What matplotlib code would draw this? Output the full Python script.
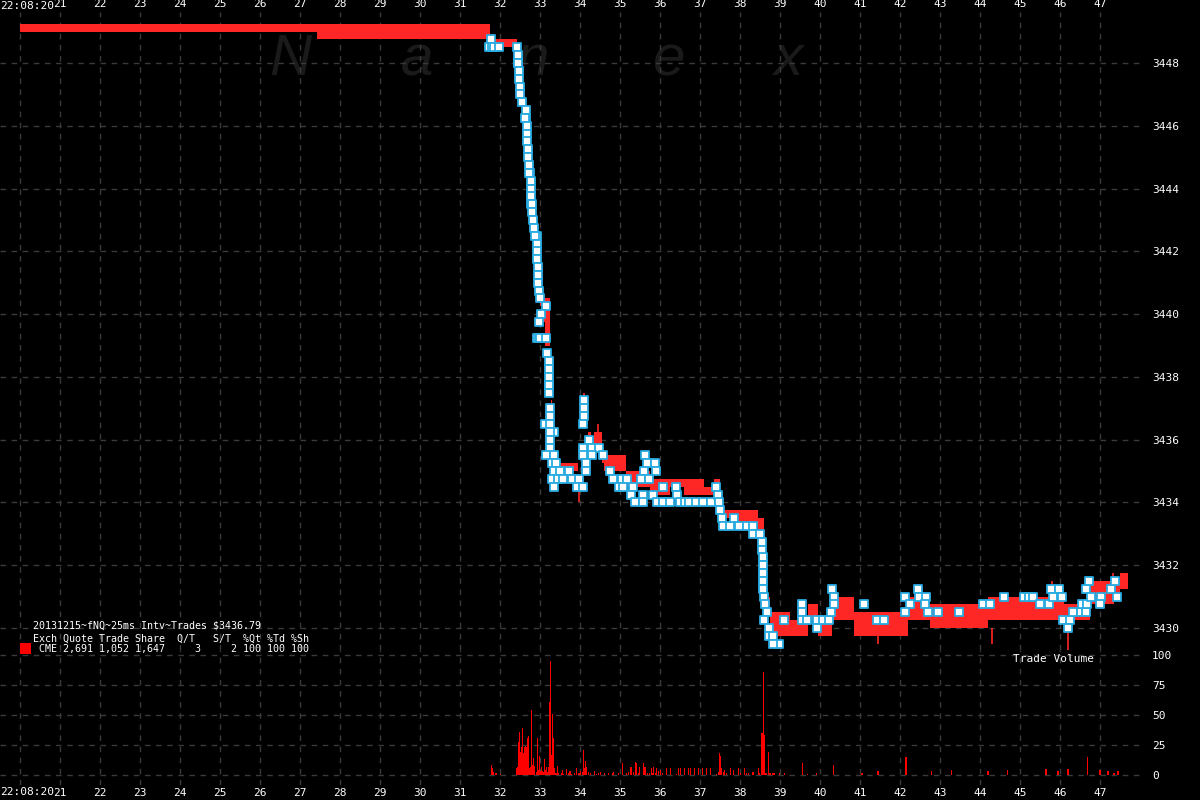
import matplotlib
matplotlib.use('Agg')
import matplotlib.pyplot as plt
from matplotlib.patches import Rectangle

plt.rcParams['font.family'] = ['DejaVu Sans Mono']

# ---------------- data ----------------
sec_ticks = list(range(20, 48))
sec_labels = [''] + [str(s) for s in range(21, 48)]
start_label = '22:08:20'

price_ticks = [3430, 3432, 3434, 3436, 3438, 3440, 3442, 3444, 3446, 3448]
vol_ticks = [0, 25, 50, 75, 100]

# quote (bid/ask) band, step-post
quote_t = [20.0, 27.43, 31.75, 32.42, 32.46, 32.5, 32.55, 32.65, 32.7, 32.76, 32.82, 32.88,
           32.93, 32.97, 33.0, 33.05, 33.12, 33.25, 33.27, 33.3, 33.35, 33.4, 33.95, 34.1,
           34.2, 34.28, 34.35, 34.55, 34.6, 35.15, 35.75, 36.25, 36.6, 37.1, 37.35, 37.5,
           37.75, 38.45, 38.6, 38.65, 38.75, 39.25, 39.7, 39.95, 40.3, 40.85, 42.2, 42.5,
           42.75, 44.2, 46.1, 46.75, 47.35, 47.5, 47.7]
quote_bid = [3449.0, 3448.75, 3448.5, 3448.25, 3447.75, 3447.0, 3446.5, 3446.0, 3445.0, 3444.0,
             3443.0, 3442.5, 3441.5, 3441.0, 3440.25, 3439.75, 3439.0, 3437.5, 3436.75, 3435.75,
             3435.25, 3435.0, 3434.5, 3436.5, 3436.0, 3435.75, 3435.75, 3435.25, 3435.0, 3434.5,
             3434.25, 3434.5, 3434.25, 3434.25, 3434.5, 3433.5, 3433.25, 3433.0, 3432.0, 3430.5,
             3429.75, 3429.75, 3430.25, 3429.75, 3430.25, 3429.75, 3430.25, 3430.25, 3430.0,
             3430.25, 3430.25, 3430.75, 3431.0, 3431.25, 3431.25]
quote_ask = [3449.25, 3449.25, 3448.75, 3448.5, 3448.0, 3447.25, 3446.75, 3446.25, 3445.25, 3444.5,
             3443.25, 3442.75, 3441.75, 3441.25, 3440.5, 3440.25, 3440.5, 3438.0, 3437.25, 3436.0,
             3435.5, 3435.25, 3434.75, 3437.0, 3436.25, 3436.0, 3436.25, 3435.75, 3435.5, 3435.0,
             3434.75, 3434.75, 3434.75, 3434.5, 3434.75, 3433.75, 3433.75, 3433.5, 3432.75, 3431.0,
             3430.5, 3430.25, 3430.75, 3430.25, 3431.0, 3430.5, 3431.0, 3430.75, 3430.75,
             3431.0, 3430.75, 3431.5, 3431.5, 3431.75, 3431.75]

# brief quote flickers
flick_t = [34.1, 34.45, 33.98, 38.5, 41.45, 44.3, 46.2, 47.32, 45.8]
flick_lo = [3437.0, 3435.75, 3434.0, 3432.75, 3429.5, 3429.5, 3429.25, 3431.5, 3431.25]
flick_hi = [3437.5, 3436.5, 3434.5, 3433.25, 3429.75, 3430.0, 3430.0, 3431.75, 3431.5]

# trades
trade_t = [31.72, 31.77, 31.8, 31.85, 31.98,
           32.42, 32.44, 32.45, 32.46, 32.47, 32.48, 32.49, 32.5, 32.54, 32.64, 32.65, 32.63, 32.67,
           32.68, 32.68, 32.7, 32.71, 32.72, 32.76, 32.73, 32.77, 32.77, 32.78, 32.78, 32.8, 32.79,
           32.83, 32.86, 32.92, 32.88, 32.92, 32.93, 32.93, 32.94, 32.95, 32.95, 32.98, 33.0,
           33.14, 33.02, 32.97, 32.93, 32.97, 33.0, 33.15, 33.17, 33.23, 33.23, 33.22, 33.22,
           33.23, 33.23, 33.25, 33.25, 33.12, 33.25, 33.35, 33.25, 33.25, 33.25, 33.15, 33.35,
           33.3, 33.4, 33.35, 33.5, 33.72, 33.3, 33.45, 33.58, 33.8, 33.98, 33.35, 33.93, 34.07,
           34.11, 34.11, 34.11, 34.08, 34.22, 34.08, 34.3, 34.47, 34.08, 34.3, 34.58, 34.15,
           34.15, 34.75, 34.83, 35.05, 35.17, 34.97, 35.08, 35.33, 35.27, 35.58, 35.83, 35.63,
           35.68, 35.87, 35.6, 35.9, 35.52, 35.72, 36.07, 35.38, 35.58, 35.92, 36.12,
           36.4, 36.43, 36.08, 36.25, 36.5, 36.63, 36.72, 36.9, 37.07, 37.27, 37.4, 37.45, 37.47,
           37.5, 37.55, 37.58, 37.75, 37.85, 37.97, 38.17, 38.32, 38.32, 38.5, 38.55, 38.55,
           38.57, 38.57, 38.58, 38.58, 38.58, 38.6, 38.62, 38.67, 38.6, 38.72, 38.73, 38.83,
           38.97, 38.83, 39.1,
           39.55, 39.55, 39.55, 39.68, 39.92, 39.92, 40.08, 40.23, 40.3, 40.35, 40.35, 40.27,
           41.1, 41.42, 41.6, 42.13, 42.25, 42.13, 42.45, 42.48, 42.65, 42.62, 42.7, 42.95,
           43.47, 44.08, 44.25, 44.6, 45.1, 45.22, 45.33, 45.5, 45.73, 45.77, 45.98, 45.83,
           46.05, 46.08, 46.25, 46.2, 46.33, 46.53, 46.65, 46.55, 46.68, 46.65, 46.72, 46.77,
           47.02, 47.0, 47.27, 47.38, 47.42]
trade_p = [3448.5, 3448.75, 3448.5, 3448.5, 3448.5,
           3448.5, 3448.25, 3448.0, 3448.0, 3447.75, 3447.5, 3447.25, 3447.0, 3446.75, 3446.5,
           3446.25, 3446.25, 3446.0, 3445.75, 3445.5, 3445.25, 3445.0, 3444.75, 3444.5, 3444.5,
           3444.25, 3444.0, 3443.75, 3443.5, 3443.5, 3443.25, 3443.0, 3442.75, 3442.5, 3442.5,
           3442.25, 3442.0, 3441.75, 3441.5, 3441.25, 3441.0, 3440.75, 3440.5,
           3440.25, 3440.0, 3439.75, 3439.25, 3439.25, 3439.25, 3439.25, 3438.75, 3438.5,
           3438.25, 3438.0, 3437.75,
           3437.75, 3437.5, 3437.0, 3436.75, 3436.5, 3436.5, 3436.25, 3436.25, 3436.0, 3435.75,
           3435.5, 3435.5, 3435.25, 3435.25, 3435.0, 3435.0, 3435.0, 3434.75, 3434.75, 3434.75,
           3434.75, 3434.75, 3434.5, 3434.5, 3434.5,
           3437.25, 3437.0, 3436.75, 3436.5, 3436.0, 3435.75, 3435.75, 3435.75, 3435.5, 3435.5,
           3435.5, 3435.25, 3435.0, 3435.0, 3434.75, 3434.75, 3434.75, 3434.5, 3434.5, 3434.5,
           3434.25, 3434.25, 3434.25, 3435.5, 3435.25, 3435.25, 3435.0, 3435.0, 3434.75,
           3434.75, 3434.5, 3434.0, 3434.0, 3434.0, 3434.0,
           3434.5, 3434.25, 3434.0, 3434.0, 3434.0, 3434.0, 3434.0, 3434.0, 3434.0, 3434.0,
           3434.5, 3434.25, 3434.0, 3433.75, 3433.5, 3433.25, 3433.25, 3433.5, 3433.25, 3433.25,
           3433.25, 3433.0, 3433.0, 3432.75, 3432.5, 3432.25, 3432.0, 3431.75, 3431.5, 3431.25,
           3431.0, 3430.75, 3430.5, 3430.25, 3430.0, 3429.75, 3429.75, 3429.5, 3429.5, 3430.25,
           3430.75, 3430.5, 3430.25, 3430.25, 3430.25, 3430.0, 3430.25, 3430.25, 3431.25,
           3431.0, 3430.75, 3430.5, 3430.75, 3430.25, 3430.25, 3431.0, 3430.75, 3430.5,
           3431.25, 3431.0, 3431.0, 3430.75, 3430.5, 3430.5, 3430.5, 3430.75, 3430.75, 3431.0,
           3431.0, 3431.0, 3431.0, 3430.75, 3430.75, 3431.25, 3431.25, 3431.0, 3431.0, 3430.25,
           3430.25, 3430.0, 3430.5, 3430.5, 3430.5, 3430.75, 3430.75, 3431.25, 3431.5, 3431.0,
           3431.0, 3430.75, 3431.25, 3431.5, 3431.0]

# trade volume per 25 ms interval
vol_t = [31.78, 31.81, 31.83, 31.88, 31.92, 32.02, 32.42, 32.44, 32.47, 32.49, 32.52, 32.54,
         32.57, 32.59, 32.62, 32.64, 32.67, 32.69, 32.72, 32.73, 32.77, 32.79, 32.82, 32.84,
         32.87, 32.92, 32.94, 32.97, 32.99, 33.02, 33.04, 33.07, 33.09, 33.12, 33.14, 33.17,
         33.19, 33.22, 33.24, 33.26, 33.29, 33.32, 33.34, 33.37, 33.40, 33.43, 33.47, 33.54,
         33.57, 33.59, 33.67, 33.72, 33.75, 33.78, 33.87, 33.92, 33.97, 34.0, 34.02, 34.07,
         34.09, 34.12, 34.14, 34.17, 34.22, 34.27, 34.36, 34.42, 34.47, 34.52, 34.62, 34.72,
         34.82, 34.84, 34.97, 35.07, 35.17, 35.22, 35.27, 35.29, 35.34, 35.39, 35.42, 35.47,
         35.49, 35.59, 35.62, 35.64, 35.69, 35.74, 35.79, 35.82, 35.84, 35.89, 35.92, 35.97,
         36.02, 36.07, 36.17, 36.27, 36.42, 36.47, 36.52, 36.62, 36.72, 36.77, 36.87, 36.97,
         37.07, 37.17, 37.27, 37.42, 37.47, 37.49, 37.52, 37.54, 37.59, 37.62, 37.67, 37.77,
         37.84, 37.97, 38.02, 38.12, 38.17, 38.22, 38.32, 38.34, 38.47, 38.49, 38.54, 38.55,
         38.57, 38.58, 38.61, 38.63, 38.67, 38.71, 38.73, 38.77, 38.82, 38.85, 38.98, 39.12,
         39.56, 39.69, 39.92, 40.33, 41.05, 41.45, 42.15, 42.78, 43.28, 44.2, 44.68, 45.65,
         45.95, 46.2, 46.68, 47.0, 47.2, 47.35, 47.45]
vol_v = [8.3, 5.6, 2.8, 1.4, 1.9, 0.8, 5.6, 6.9, 27.8, 36.1, 19.4, 23.6,
         38.9, 18.1, 23.6, 24.2, 23.6, 30.6, 32.5, 5.6, 6.9, 54.2, 8.3, 13.9,
         7.5, 2.8, 30.6, 4.2, 15.8, 3.6, 6.9, 3.6, 2.8, 13.1, 4.2, 6.9,
         2.8, 6.9, 61.1, 95.3, 16.7, 50.8, 30.6, 5.6, 1.4, 7.5, 1.4, 1.9,
         4.2, 0.8, 4.7, 1.9, 3.6, 0.8, 1.9, 5.6, 1.4, 1.9, 3.6, 2.8,
         20.8, 5.6, 11.9, 6.9, 2.8, 1.9, 3.3, 0.6, 1.4, 2.8, 1.9, 1.4,
         1.9, 2.8, 1.4, 9.7, 1.4, 2.8, 6.4, 6.9, 2.8, 11.1, 9.7, 1.9,
         6.4, 10.3, 6.4, 6.4, 1.9, 1.9, 5.6, 1.9, 6.4, 1.9, 5.6, 3.6,
         4.2, 1.4, 5.6, 5.6, 0.8, 5.6, 5.6, 5.6, 5.6, 5.6, 5.6, 5.6,
         5.6, 5.6, 5.6, 0.8, 2.8, 18.1, 15.8, 5.6, 2.8, 4.2, 1.9, 5.6,
         4.2, 5.6, 1.9, 5.6, 1.9, 1.9, 2.8, 2.8, 5.6, 1.9, 1.9, 34.7,
         34.7, 86.1, 33.3, 1.9, 1.9, 19.4, 1.9, 1.9, 1.4, 1.9, 1.4, 1.4,
         9.7, 0.8, 1.4, 8.0, 2.0, 3.0, 15.0, 3.0, 4.0, 3.0, 4.0, 5.0,
         3.0, 5.0, 15.0, 4.0, 3.0, 2.0, 3.0]

header_lines = ['20131215~fNQ~25ms Intv~Trades $3436.79',
                'Exch Quote Trade Share  Q/T   S/T  %Qt %Td %Sh',
                ' CME 2,691 1,052 1,647     3     2 100 100 100']
watermark = ['N', 'a', 'n', 'e', 'x']

# ---------------- style ----------------
RED = '#ff2626'
GRID = '#3a3a3a'
W, H = 1200, 800


def fx(px):
    return px / W


def fy(py):
    return 1 - py / H


fig = plt.figure(figsize=(12, 8), dpi=100, facecolor='black')
ax = fig.add_axes([0, fy(650), fx(1145), (650 - 12) / H])
axv = fig.add_axes([0, fy(785), fx(1145), (785 - 650) / H])

for a in (ax, axv):
    a.set_facecolor('none')
    for s in a.spines.values():
        s.set_visible(False)
    a.set_xlim(19.5, 48.125)
    a.set_xticks(sec_ticks)
    a.set_xticklabels(sec_labels)
    a.grid(True, color=GRID, linestyle=(0, (4, 4)), linewidth=1)
    a.set_axisbelow(True)
    a.tick_params(length=0, colors='white', labelsize=8)
    a.yaxis.tick_right()
    a.tick_params(axis='y', pad=5)

ax.xaxis.tick_top()
ax.tick_params(axis='x', pad=2)
axv.tick_params(axis='x', pad=2)

ax.set_ylim(3429.30, 3449.625)
ax.set_yticks(price_ticks)
ax.set_yticklabels([str(v) for v in price_ticks])
axv.set_ylim(-8.33, 104.17)
axv.set_yticks(vol_ticks)
axv.set_yticklabels([str(v) for v in vol_ticks])

# quote band
ax.fill_between(quote_t, quote_bid, quote_ask, step='post', color=RED, linewidth=0, zorder=2)
ax.vlines(flick_t, flick_lo, flick_hi, color=RED, linewidth=1.2, zorder=2)
# trades
ax.scatter(trade_t, trade_p, marker='s', s=30, facecolor='white', edgecolor='#29abe2',
           linewidths=1.3, zorder=4)

# volume
axv.bar(vol_t, vol_v, width=0.034, color='#ff0000', linewidth=0, zorder=3)
axv.text(fx(1013) / fx(1145), 1 - (659 - 650) / (785 - 650), 'Trade Volume', color='white',
         fontsize=8, ha='left', va='center', transform=axv.transAxes)

# start time labels (top and bottom)
fig.text(fx(0), fy(6), start_label, color='white', fontsize=8, ha='left', va='center')
fig.text(fx(0), fy(792), start_label, color='white', fontsize=8, ha='left', va='center')

# watermark
wm_x = [290, 417, 532, 668, 788]
for ch, px in zip(watermark, wm_x):
    fig.text(fx(px), fy(75), ch, color='#1a1a1a', fontsize=42, style='italic',
             family='Liberation Sans', ha='center', va='baseline', zorder=-1)

# header / legend
for line, py in zip(header_lines, [626, 638.7, 648.7]):
    fig.text(fx(33), fy(py), line, color='white', fontsize=7.2, ha='left', va='center')
fig.patches.append(Rectangle((fx(20), fy(654)), fx(11), 11 / H, transform=fig.transFigure,
                             facecolor='#ff0000', edgecolor='none'))

fig.savefig('out.png', dpi=100, facecolor='black')
